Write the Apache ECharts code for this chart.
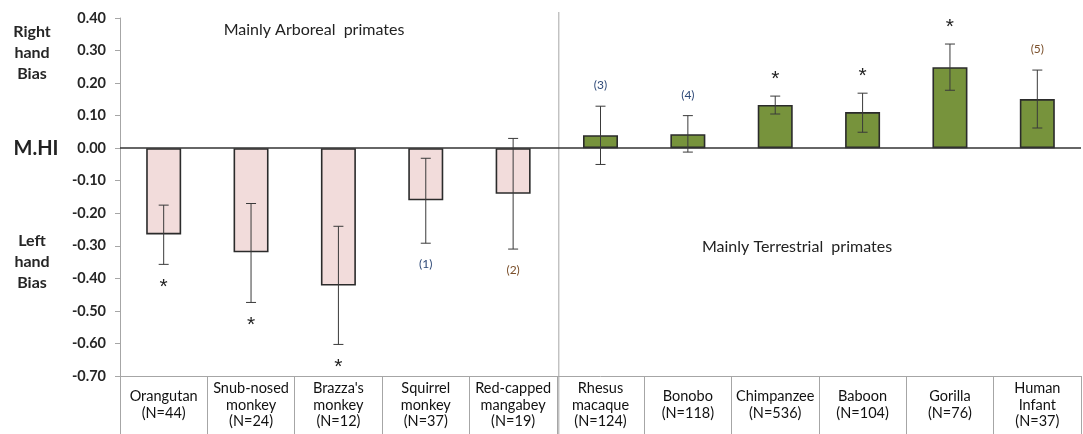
<!DOCTYPE html>
<html><head><meta charset="utf-8">
<script src="https://cdn.jsdelivr.net/npm/echarts@6/dist/echarts.min.js"></script>
<style>html,body{margin:0;padding:0;background:#fff}#c{width:1083px;height:434px}</style>
</head><body><div id="c"></div>
<script>
var categories = ['Orangutan\n(N=44)', 'Snub-nosed\nmonkey\n(N=24)', "Brazza's\nmonkey\n(N=12)", 'Squirrel\nmonkey\n(N=37)', 'Red-capped\nmangabey\n(N=19)', 'Rhesus\nmacaque\n(N=124)', 'Bonobo\n(N=118)', 'Chimpanzee\n(N=536)', 'Baboon\n(N=104)', 'Gorilla\n(N=76)', 'Human\nInfant\n(N=37)'];
var mhiValues = [-0.265, -0.32, -0.422, -0.16, -0.14, 0.04, 0.043, 0.133, 0.111, 0.249, 0.151];
var errLow = [-0.357, -0.474, -0.603, -0.292, -0.31, -0.05, -0.012, 0.105, 0.049, 0.178, 0.062];
var errHigh = [-0.175, -0.17, -0.24, -0.031, 0.03, 0.129, 0.10, 0.16, 0.169, 0.32, 0.24];
var habitat = ['arboreal', 'arboreal', 'arboreal', 'arboreal', 'arboreal', 'terrestrial', 'terrestrial', 'terrestrial', 'terrestrial', 'terrestrial', 'terrestrial'];
var annotations = ['*', '*', '*', '(1)', '(2)', '(3)', '(4)', '*', '*', '*', '(5)'];
var yTicks = { min: -0.7, max: 0.4, interval: 0.1 };

var FONT = 'Lato, "Open Sans", sans-serif';
var fillColors = { arboreal: '#f2dcdb', terrestrial: '#77933c' };
var noteColors = { '(1)': '#2f4a78', '(2)': '#7a4f2a', '(3)': '#2f4a78', '(4)': '#2f4a78', '(5)': '#7a4f2a', '*': '#222' };

var chart = echarts.init(document.getElementById('c'));
var barData = mhiValues.map(function (v, i) {
  return { value: v, itemStyle: { color: fillColors[habitat[i]] } };
});
var errData = mhiValues.map(function (v, i) { return [i, errLow[i], errHigh[i]]; });
var noteData = mhiValues.map(function (v, i) { return [i, v >= 0 ? errHigh[i] : errLow[i], v >= 0 ? 1 : -1]; });

chart.setOption({
  animation: false,
  textStyle: { fontFamily: FONT },
  grid: { left: 120, right: 2, top: 18, bottom: 58 },
  xAxis: {
    type: 'category', data: categories,
    axisLine: { onZero: false, lineStyle: { color: '#a6a6a6', width: 1 } },
    axisTick: { show: true, interval: 0, length: 58, lineStyle: { color: '#a6a6a6' } },
    axisLabel: { interval: 0, margin: 29, verticalAlign: 'middle', lineHeight: 16.5, fontSize: 14.5, color: '#111', fontFamily: FONT }
  },
  yAxis: {
    type: 'value', min: yTicks.min, max: yTicks.max, interval: yTicks.interval,
    axisLine: { show: true, lineStyle: { color: '#a6a6a6' } },
    axisTick: { show: true, length: 5, lineStyle: { color: '#a6a6a6' } },
    splitLine: { show: false },
    axisLabel: { margin: 14, fontSize: 14.5, fontWeight: 'bold', color: '#262626', fontFamily: FONT,
      formatter: function (v) { return v.toFixed(2); } }
  },
  series: [
    {
      type: 'bar', data: barData, barWidth: 35,
      itemStyle: { borderColor: '#2b2b2b', borderWidth: 1.6 },
      markLine: { silent: true, symbol: 'none', label: { show: false },
        lineStyle: { color: '#333', width: 1.6, type: 'solid' }, data: [{ yAxis: 0 }] }
    },
    {
      type: 'custom', data: errData, z: 5,
      renderItem: function (params, api) {
        var lo = api.coord([api.value(0), api.value(1)]);
        var hi = api.coord([api.value(0), api.value(2)]);
        var w = 5;
        var st = { stroke: '#3a3a3a', lineWidth: 1 };
        return { type: 'group', children: [
          { type: 'line', shape: { x1: lo[0], y1: lo[1], x2: hi[0], y2: hi[1] }, style: st },
          { type: 'line', shape: { x1: lo[0] - w, y1: lo[1], x2: lo[0] + w, y2: lo[1] }, style: st },
          { type: 'line', shape: { x1: hi[0] - w, y1: hi[1], x2: hi[0] + w, y2: hi[1] }, style: st }
        ] };
      }
    },
    {
      type: 'custom', data: noteData, z: 6,
      renderItem: function (params, api) {
        var i = params.dataIndex;
        var p = api.coord([api.value(0), api.value(1)]);
        var txt = annotations[i];
        var star = txt === '*';
        var dir = api.value(2);
        var y = star ? p[1] - dir * 20 + 3 : p[1] - dir * 21;
        return { type: 'text', x: p[0], y: y,
          style: { text: txt, fill: noteColors[txt], fontFamily: star ? '"Liberation Sans", Arial, sans-serif' : FONT,
            fontSize: star ? 21 : 12, align: 'center', verticalAlign: 'middle' } };
      }
    }
  ]
});

// divider between groups, at the category boundary computed from the axis
var c4 = chart.convertToPixel({ xAxisIndex: 0 }, 4);
var c5 = chart.convertToPixel({ xAxisIndex: 0 }, 5);
var bx = (c4 + c5) / 2 + 2;
chart.setOption({ graphic: [
  { type: 'line', z: 1, shape: { x1: bx, y1: 12, x2: bx, y2: 434 }, style: { stroke: '#a6a6a6', lineWidth: 1 } },
  { type: 'text', style: { text: 'Right\nhand\nBias', x: 32, y: 53, align: 'center', verticalAlign: 'middle', lineHeight: 21, fontSize: 16, fontWeight: 'bold', fill: '#262626', fontFamily: FONT } },
  { type: 'text', style: { text: 'M.HI', x: 36, y: 149, align: 'center', verticalAlign: 'middle', fontSize: 20, fontWeight: 'bold', fill: '#222', fontFamily: FONT } },
  { type: 'text', style: { text: 'Left\nhand\nBias', x: 32, y: 262, align: 'center', verticalAlign: 'middle', lineHeight: 21, fontSize: 16, fontWeight: 'bold', fill: '#262626', fontFamily: FONT } },
  { type: 'text', style: { text: 'Mainly Arboreal  primates', x: 314, y: 30, align: 'center', verticalAlign: 'middle', fontSize: 16, fill: '#222', fontFamily: FONT } },
  { type: 'text', style: { text: 'Mainly Terrestrial  primates', x: 797, y: 247, align: 'center', verticalAlign: 'middle', fontSize: 16, fill: '#222', fontFamily: FONT } }
] });
</script>
</body></html>
